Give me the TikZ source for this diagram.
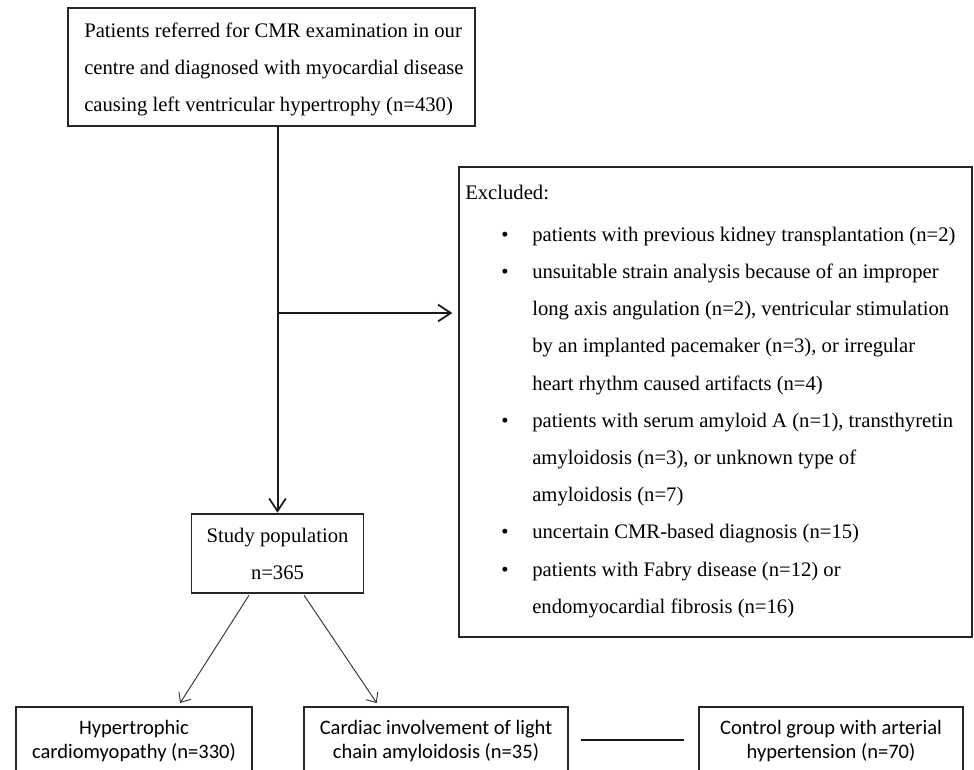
\documentclass[tikz,border=0pt]{standalone}
\usepackage{fontspec}
\setmainfont{Liberation Serif}
\newfontfamily\calib{Carlito}
\usetikzlibrary{arrows.meta}
\begin{document}
\begin{tikzpicture}[x=0.75pt,y=-0.75pt,
  box/.style={draw=black!85,line width=1pt,inner sep=0pt},
  tx/.style={font=\fontsize{15.5}{27.75}\selectfont,inner sep=0pt,anchor=base west},
  txc/.style={font=\fontsize{15.5}{27.75}\selectfont,inner sep=0pt,anchor=base},
  ctx/.style={font=\calib\fontsize{15.4}{18}\selectfont,inner sep=0pt,anchor=base},
  mainarrow/.style={draw=black!90,line width=1.5pt,-{Straight Barb[length=9.5pt,width=12.5pt,line width=1.3pt]}},
  thinarrow/.style={draw=black!80,line width=0.7pt,-{Straight Barb[length=6pt,width=10.5pt,line width=0.7pt]}}
]
\useasboundingbox (0,0) rectangle (974,769);
\clip (0,0) rectangle (974,769);
\fill[white] (0,0) rectangle (974,769);

% top box
\node[box,minimum width=305.25pt,minimum height=88.5pt] (top) at (271.5,67) {};
\node[tx] (t1) at (84,37.5) {Patients referred for CMR examination in our};
\node[tx] (t2) at (84,74.5) {centre and diagnosed with myocardial disease};
\node[tx] (t3) at (84,111) {causing left ventricular hypertrophy (n=430)};

% study population
\node[box,minimum width=129pt,minimum height=59.25pt] (study) at (277.5,553.5) {};
\node[txc] (s1) at (277.5,542) {Study population};
\node[txc] (s2) at (277.5,579) {n=365};

% excluded box
\node[box,minimum width=384.75pt,minimum height=352.5pt] (excl) at (715.5,402) {};
\node[tx] (exh) at (465,199) {Excluded:};
\foreach \y/\t [count=\i] in {
  241/{patients with previous kidney transplantation (n=2)},
  278/{unsuitable strain analysis because of an improper},
  315/{long axis angulation (n=2), ventricular stimulation},
  352/{by an implanted pacemaker (n=3), or irregular},
  390/{heart rhythm caused artifacts (n=4)},
  427/{patients with serum amyloid A (n=1), transthyretin},
  464/{amyloidosis (n=3), or unknown type of},
  501/{amyloidosis (n=7)},
  538/{uncertain CMR-based diagnosis (n=15)},
  576/{patients with Fabry disease (n=12) or},
  613/{endomyocardial fibrosis (n=16)}}
  \node[tx] (ex\i) at (532,\y) {\t};
\foreach \y [count=\i] in {241,278,427,538,576}
  \node[txc] (bu\i) at (505,\y) {\textbullet};

% bottom boxes
\node[box,minimum width=177pt,minimum height=62.25pt] (b1) at (134,748.5) {};
\node[ctx] (b1a) at (134,734) {Hypertrophic};
\node[ctx] (b1b) at (134,758) {cardiomyopathy (n=330)};
\node[box,minimum width=198pt,minimum height=62.25pt] (b2) at (436,748.5) {};
\node[ctx] (b2a) at (436,734) {Cardiac involvement of light};
\node[ctx] (b2b) at (436,758) {chain amyloidosis (n=35)};
\node[box,minimum width=198pt,minimum height=62.25pt] (b3) at (831,748.5) {};
\node[ctx] (b3a) at (831,734) {Control group with arterial};
\node[ctx] (b3b) at (831,758) {hypertension (n=70)};

% connectors
\draw[mainarrow,shorten >=0.5pt] (study.north |- top.south) -- (study.north);
\coordinate (br) at (277.5,313);
\draw[mainarrow,shorten >=4.5pt] (br) -- (br -| excl.west);
\draw[thinarrow,shorten <=1.5pt,shorten >=3pt] ([xshift=-20.6pt]study.south) -- ([xshift=33pt]b1.north);
\draw[thinarrow,shorten <=1.5pt,shorten >=3pt] ([xshift=19.1pt]study.south) -- ([xshift=-42.75pt]b2.north);
\draw[draw=black!90,line width=1.6pt,shorten <=9pt,shorten >=10.5pt] ([yshift=6.4pt]b2.east) -- ([yshift=6.4pt]b3.west);
\end{tikzpicture}
\end{document}
